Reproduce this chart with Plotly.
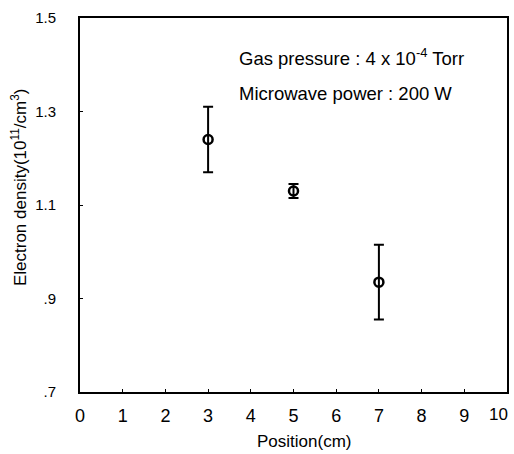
import plotly.graph_objects as go

position = [3, 5, 7]
density = [1.24, 1.13, 0.935]
err = [0.07, 0.015, 0.08]
xticks = list(range(0, 10))
last_xtick = 10
yticks = [0.7, 0.9, 1.1, 1.3, 1.5]
yticklabels = [".7", ".9", "1.1", "1.3", "1.5"]

FONT = "Liberation Sans Narrow, Arial Narrow, Liberation Sans, Arial, sans-serif"

fig = go.Figure()
fig.add_trace(go.Scatter(
    x=position, y=density, mode="markers",
    marker=dict(symbol="circle-open", size=9, color="black", line=dict(width=2.5, color="black")),
    error_y=dict(type="data", array=err, visible=True, color="black", thickness=2, width=5),
    showlegend=False,
))

fig.add_annotation(x=0, y=1.0, xref="paper", yref="paper", xanchor="left", yanchor="middle",
                   text="Gas pressure : 4 x 10<sup>-4</sup> Torr", showarrow=False,
                   xshift=157, yshift=-39, font=dict(family=FONT, size=18.5, color="black"))
fig.add_annotation(x=0, y=1.0, xref="paper", yref="paper", xanchor="left", yanchor="middle",
                   text="Microwave power : 200 W", showarrow=False,
                   xshift=157, yshift=-75, font=dict(family=FONT, size=18.5, color="black"))
# last x tick label (sits at the right paper edge)
fig.add_annotation(x=last_xtick, y=0, xref="x", yref="paper", xanchor="right", yanchor="middle",
                   text=str(last_xtick), showarrow=False, yshift=-22, xshift=3,
                   font=dict(family=FONT, size=17, color="black"))
# axis titles
fig.add_annotation(x=0.524, y=0, xref="paper", yref="paper", xanchor="center", yanchor="middle",
                   text="Position(cm)", showarrow=False, yshift=-49,
                   font=dict(family=FONT, size=17, color="black"))
fig.add_annotation(x=0, y=0.548, xref="paper", yref="paper", xanchor="center", yanchor="middle",
                   text="Electron density(10<sup>11</sup>/cm<sup>3</sup>)", showarrow=False,
                   xshift=-61, textangle=-90,
                   font=dict(family=FONT, size=17, color="black"))

fig.update_layout(
    width=514, height=454,
    margin=dict(l=80, r=5, t=18, b=62),
    plot_bgcolor="white", paper_bgcolor="white",
    font=dict(family=FONT, color="black"),
    xaxis=dict(range=[0, 10], tickvals=xticks, ticks="inside", ticklen=3, tickcolor="black",
               showline=True, linecolor="black", linewidth=2, mirror=True, showgrid=False,
               zeroline=False, tickfont=dict(size=18), ticklabelstandoff=6),
    yaxis=dict(range=[0.7, 1.5], tickvals=yticks, ticktext=yticklabels, ticks="inside", ticklen=3,
               tickcolor="black", showline=True, linecolor="black", linewidth=2, mirror=True,
               showgrid=False, zeroline=False, tickfont=dict(size=15), ticklabelstandoff=19),
)

fig.write_html("out.html")
